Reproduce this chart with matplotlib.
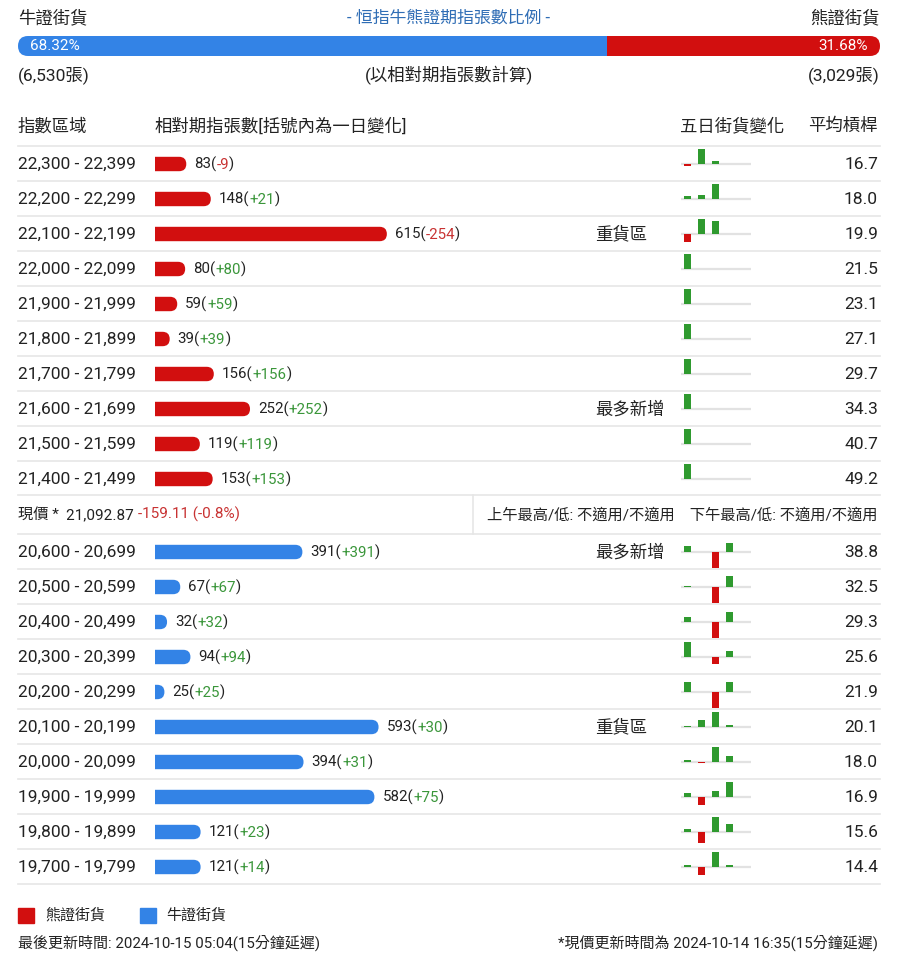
import numpy as np
import matplotlib
matplotlib.use("Agg")
from matplotlib import pylab as plt
from matplotlib.patches import FancyBboxPatch, Rectangle

plt.rcParams['font.family'] = ['Roboto', 'Noto Sans CJK TC', 'DejaVu Sans']

# ---- data ----
bull_pct = 68.32
bear_pct = 31.68
bull_total = "6,530"
bear_total = "3,029"

bear_ranges = ["22,300 - 22,399", "22,200 - 22,299", "22,100 - 22,199", "22,000 - 22,099",
               "21,900 - 21,999", "21,800 - 21,899", "21,700 - 21,799", "21,600 - 21,699",
               "21,500 - 21,599", "21,400 - 21,499"]
bear_counts = [83, 148, 615, 80, 59, 39, 156, 252, 119, 153]
bear_change = [-9, 21, -254, 80, 59, 39, 156, 252, 119, 153]
bear_lev = ["16.7", "18.0", "19.9", "21.5", "23.1", "27.1", "29.7", "34.3", "40.7", "49.2"]
bear_5d = [[-2, 15, 3, 0, 0], [3, 4, 15, 0, 0], [-8, 15, 13, 0, 0],
           [15, 0, 0, 0, 0], [15, 0, 0, 0, 0], [15, 0, 0, 0, 0], [15, 0, 0, 0, 0],
           [15, 0, 0, 0, 0], [15, 0, 0, 0, 0], [15, 0, 0, 0, 0]]
bear_tags = {2: "重貨區", 7: "最多新增"}

bull_ranges = ["20,600 - 20,699", "20,500 - 20,599", "20,400 - 20,499", "20,300 - 20,399",
               "20,200 - 20,299", "20,100 - 20,199", "20,000 - 20,099", "19,900 - 19,999",
               "19,800 - 19,899", "19,700 - 19,799"]
bull_counts = [391, 67, 32, 94, 25, 593, 394, 582, 121, 121]
bull_change = [391, 67, 32, 94, 25, 30, 31, 75, 23, 14]
bull_lev = ["38.8", "32.5", "29.3", "25.6", "21.9", "20.1", "18.0", "16.9", "15.6", "14.4"]
bull_5d = [[6, 0, -16, 9, 0], [1, 0, -16, 11, 0], [5, 0, -16, 10, 0], [16, 0, -7, 6, 0],
           [10, 0, -16, 10, 0], [1, 7, 16, 2, 0], [2, -1, 16, 6, 0], [4, -8, 6, 16, 0],
           [3, -11, 16, 8, 0], [2, -8, 16, 2, 0]]
bull_tags = {0: "最多新增", 5: "重貨區"}

spot = "21,092.87"
spot_chg = "-159.11 (-0.8%)"

RED = '#d20f0f'
BLUE = '#3383e6'
GREEN = '#2f9a2f'
TXT = '#222222'
CHG_RED = '#c83232'
CHG_GREEN = '#3a963a'
LINE = '#e6e6e6'

L, R = 18, 880
BAR_X0 = 155
PX_PER = 0.377
ROW_H = 35

fig = plt.figure(figsize=(9.04, 9.61), dpi=100)
ax = fig.add_axes([0, 0, 1, 1])
ax.set_xlim(0, 904)
ax.set_ylim(961, 0)
ax.axis('off')


def chain(parts, x, y, size, ha_first='left'):
    t = ax.text(x, y, parts[0][0], color=parts[0][1], fontsize=size, va='center', ha=ha_first)
    for s, c in parts[1:]:
        t = ax.annotate(s, xy=(1, 0), xycoords=t, color=c, fontsize=size, va='bottom', ha='left')
    return t


# ---- header ratio bar ----
ax.text(L, 18, "牛證街貨", fontsize=12.5, color=TXT, va='center')
ax.text(R, 18, "熊證街貨", fontsize=12.5, color=TXT, va='center', ha='right')
ax.text((L + R) / 2, 18, "- 恒指牛熊證期指張數比例 -", fontsize=12.2, color='#2f6db5', va='center', ha='center')
split = L + (R - L) * bull_pct / 100
for c, clip in [(RED, (split, R + 2)), (BLUE, (L - 2, split))]:
    p = FancyBboxPatch((L, 36), R - L, 20, boxstyle="round,pad=0,rounding_size=10",
                       fc=c, ec='none')
    ax.add_patch(p)
    p.set_clip_path(Rectangle((clip[0], 30), clip[1] - clip[0], 32, transform=ax.transData))
ax.text(L + 12, 46, "%.2f%%" % bull_pct, fontsize=11, color='white', va='center')
ax.text(R - 12, 46, "%.2f%%" % bear_pct, fontsize=11, color='white', va='center', ha='right')
ax.text(L, 75, "(%s張)" % bull_total, fontsize=12.5, color=TXT, va='center')
ax.text(R, 75, "(%s張)" % bear_total, fontsize=12.5, color=TXT, va='center', ha='right')
ax.text((L + R) / 2, 75, "(以相對期指張數計算)", fontsize=12.5, color=TXT, va='center', ha='center')

# ---- column header ----
ax.text(L, 126, "指數區域", fontsize=12.5, color=TXT, va='center')
ax.text(BAR_X0, 126, "相對期指張數[括號內為一日變化]", fontsize=12.5, color=TXT, va='center')
ax.text(680, 126, "五日街貨變化", fontsize=12.5, color=TXT, va='center')
ax.text(R - 2, 126, "平均槓桿", fontsize=12.5, color=TXT, va='center', ha='right')


def draw_block(y0, ranges, counts, change, lev, fived, tags, color):
    ys = [y0 + ROW_H * i for i in range(len(ranges))]
    for i, y in enumerate(ys):
        ax.plot([L, R], [y - 18.5, y - 18.5], color=LINE, lw=1.2)
        ax.text(L, y + 0.5, ranges[i], fontsize=12.5, color=TXT, va='center')
        w = counts[i] * PX_PER
        p = FancyBboxPatch((BAR_X0 - 10, y - 7.2), w + 10, 14.4,
                           boxstyle="round,pad=0,rounding_size=7.2", fc=color, ec='none')
        ax.add_patch(p)
        p.set_clip_path(Rectangle((BAR_X0, y - 10), w + 5, 20, transform=ax.transData))
        cc = CHG_GREEN if change[i] > 0 else CHG_RED
        chain([(str(counts[i]) + "(", TXT), ("%+d" % change[i], cc), (")", TXT)],
              BAR_X0 + w + 8, y + 0.5, 10.8)
        if i in tags:
            ax.text(595, y, tags[i], fontsize=12.5, color=TXT, va='center')
        # five day mini chart
        ax.plot([681, 751], [y, y], color='#e2e2e2', lw=1.6, solid_capstyle='butt', zorder=1)
        vals = np.array(fived[i], dtype=float)
        h = vals / np.abs(vals).max() * 15.5
        xs = 687.5 + 14 * np.arange(5)
        ax.bar(xs, -h, width=7, bottom=y, color=[GREEN if v > 0 else RED for v in vals], zorder=2)
        ax.text(R - 2, y + 0.5, lev[i], fontsize=12.5, color=TXT, va='center', ha='right')
    return ys


draw_block(164, bear_ranges, bear_counts, bear_change, bear_lev, bear_5d, bear_tags, RED)
ax.plot([L, R], [495, 495], color=LINE, lw=1.2)

# ---- spot price row ----
chain([("現價 *  ", TXT), (spot + " ", TXT), (spot_chg, CHG_RED)], L, 515, 11)
ax.plot([473, 473], [495, 534], color=LINE, lw=1.2)
ax.text(R - 2, 515, "上午最高/低: 不適用/不適用    下午最高/低: 不適用/不適用", fontsize=11,
        color=TXT, va='center', ha='right')

draw_block(552, bull_ranges, bull_counts, bull_change, bull_lev, bull_5d, bull_tags, BLUE)
ax.plot([L, R], [884, 884], color=LINE, lw=1.2)

# ---- legend + footer ----
ax.add_patch(Rectangle((L, 908), 16, 15, color=RED))
ax.text(45, 915.5, "熊證街貨", fontsize=10.8, color=TXT, va='center')
ax.add_patch(Rectangle((140, 908), 16, 15, color=BLUE))
ax.text(166, 915.5, "牛證街貨", fontsize=10.8, color=TXT, va='center')
ax.text(L, 943, "最後更新時間: 2024-10-15 05:04(15分鐘延遲)", fontsize=10.8, color=TXT, va='center')
ax.text(R - 2, 943, "*現價更新時間為 2024-10-14 16:35(15分鐘延遲)", fontsize=10.8, color=TXT,
        va='center', ha='right')

fig.savefig("out.png", dpi=100)
